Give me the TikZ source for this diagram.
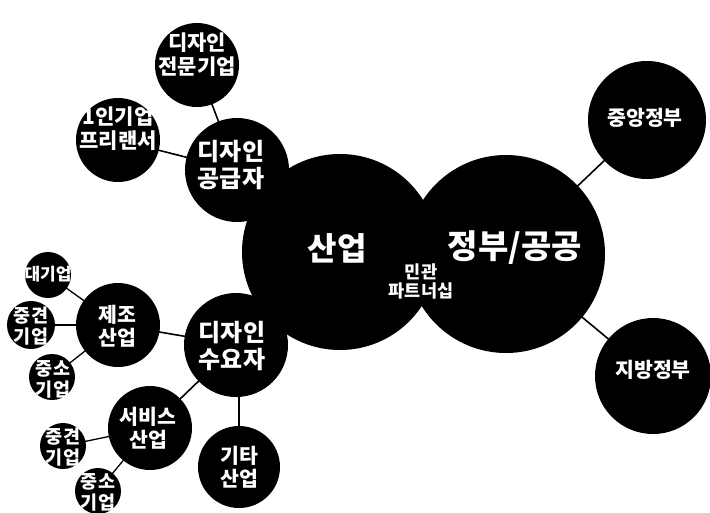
\documentclass[tikz,border=0pt]{standalone}
\usepackage{fontspec}
\setmainfont{Noto Sans CJK KR}
\begin{document}
\begin{tikzpicture}[x=1pt,y=-1pt,
  blob/.style={circle,fill=black,text=white,inner sep=0pt,align=center,font=\bfseries},
  link/.style={draw=black,line width=1.6pt},
  sublink/.style={draw=black,line width=1.3pt},
  lbl/.style={text=white,align=center,inner sep=0pt}]
\useasboundingbox (0,0) rectangle (710,512);
% coordinates for centres
\coordinate (cSan) at (340,252);
\coordinate (cGov) at (506,254);
\coordinate (cCen) at (647,120);
\coordinate (cLoc) at (653,376);
\coordinate (cSup) at (237,170);
\coordinate (cPro) at (197,65);
\coordinate (cFre) at (118,140);
\coordinate (cDem) at (236,345);
\coordinate (cMan) at (118,325);
\coordinate (cBig) at (48,275);
\coordinate (cMid1) at (31,325);
\coordinate (cSml1) at (52,377);
\coordinate (cSvc) at (150,428);
\coordinate (cMid2) at (63,446);
\coordinate (cSml2) at (98,491);
\coordinate (cEtc) at (239,467);
% connectors
\draw[link] (cGov) -- (cCen);
\draw[link] (cGov) -- (cLoc);
\draw[link] (cSup) -- (cPro);
\draw[link] (cSup) -- (cFre);
\draw[link] (cDem) -- (cMan);
\draw[link] (cDem) -- (cSvc);
\draw[link] (cDem) -- (cEtc |- cDem) -- (cEtc);
\draw[sublink] (cMan) -- (cBig);
\draw[sublink] (cMan) -- (cMid1);
\draw[sublink] (cMan) -- (cSml1);
\draw[sublink] (cSvc) -- (cMid2);
\draw[sublink] (cSvc) -- (cSml2);
% circles
\node[blob,minimum size=196pt] (san) at (cSan) {};
\node[blob,minimum size=198pt] (gov) at (cGov) {};
\node[blob,minimum size=118pt] (cen) at (cCen) {};
\node[blob,minimum size=116pt] (loc) at (cLoc) {};
\node[blob,minimum size=104pt] (sup) at (cSup) {};
\node[blob,minimum size=84pt] (pro) at (cPro) {};
\node[blob,minimum size=84pt] (fre) at (cFre) {};
\node[blob,minimum size=104pt] (dem) at (cDem) {};
\node[blob,minimum size=84pt] (man) at (cMan) {};
\node[blob,minimum size=46pt] (big) at (cBig) {};
\node[blob,minimum size=48pt] (mid1) at (cMid1) {};
\node[blob,minimum size=46pt] (sml1) at (cSml1) {};
\node[blob,minimum size=84pt] (svc) at (cSvc) {};
\node[blob,minimum size=46pt] (mid2) at (cMid2) {};
\node[blob,minimum size=46pt] (sml2) at (cSml2) {};
\node[blob,minimum size=82pt] (etc) at (cEtc) {};
% labels
\node[lbl,font=\bfseries\fontsize{32}{36}\selectfont] (tSan) at (337,248) {산업};
\node[lbl,font=\bfseries\fontsize{33}{36}\selectfont] (tGov) at (515,248) {정부/공공};
\node[lbl,font=\bfseries\fontsize{17.5}{19}\selectfont] (tPart) at (421,281) {민관\\파트너십};
\node[lbl,font=\bfseries\fontsize{20.5}{22}\selectfont] (tCen) at (645,118) {중앙정부};
\node[lbl,font=\bfseries\fontsize{20.5}{22}\selectfont] (tLoc) at (653,370) {지방정부};
\node[lbl,font=\bfseries\fontsize{24}{27}\selectfont] (tSup) at (231,165) {디자인\\공급자};
\node[lbl,font=\bfseries\fontsize{21}{24}\selectfont] (tPro) at (197,55) {디자인\\전문기업};
\node[lbl,font=\bfseries\fontsize{21}{24}\selectfont] (tFre) at (118,129) {1인기업\\프리랜서};
\node[lbl,font=\bfseries\fontsize{24}{27}\selectfont] (tDem) at (232,346) {디자인\\수요자};
\node[lbl,font=\bfseries\fontsize{20.5}{23}\selectfont] (tMan) at (117,326) {제조\\산업};
\node[lbl,font=\bfseries\fontsize{17}{19}\selectfont] (tBig) at (48,274) {대기업};
\node[lbl,font=\bfseries\fontsize{18.5}{21}\selectfont] (tMid1) at (31,326) {중견\\기업};
\node[lbl,font=\bfseries\fontsize{18.5}{21}\selectfont] (tSml1) at (53,379) {중소\\기업};
\node[lbl,font=\bfseries\fontsize{20.5}{23}\selectfont] (tSvc) at (148,428) {서비스\\산업};
\node[lbl,font=\bfseries\fontsize{18.5}{21}\selectfont] (tMid2) at (63,447) {중견\\기업};
\node[lbl,font=\bfseries\fontsize{18.5}{21}\selectfont] (tSml2) at (98,492) {중소\\기업};
\node[lbl,font=\bfseries\fontsize{20.5}{23}\selectfont] (tEtc) at (239,467) {기타\\산업};
\end{tikzpicture}
\end{document}
